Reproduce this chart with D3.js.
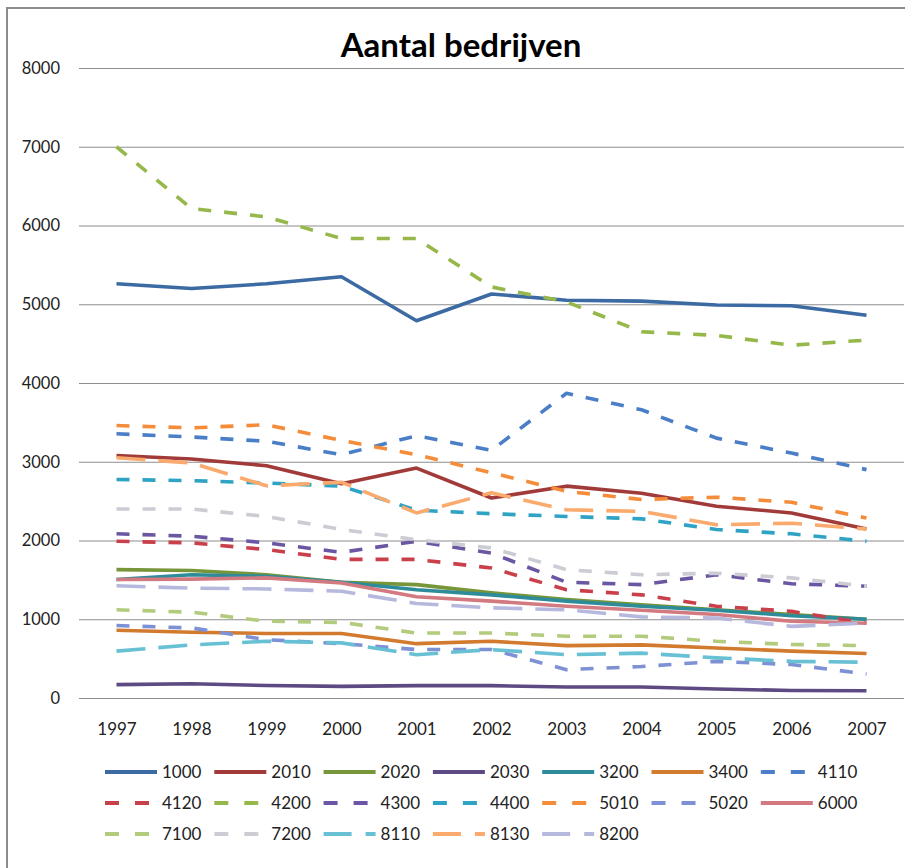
<!DOCTYPE html>
<html>
<head>
<meta charset="utf-8">
<script src="https://cdn.jsdelivr.net/npm/d3@7"></script>
<style>
  body { margin: 0; background: #fff; }
  svg { display: block; font-family: Lato, 'Noto Sans', sans-serif; }
</style>
</head>
<body>
<svg id="chart"></svg>
<script>
// categories and series
var years = ['1997', '1998', '1999', '2000', '2001', '2002', '2003', '2004', '2005', '2006', '2007'];
var codes = ['1000', '2010', '2020', '2030', '3200', '3400', '4110', '4120', '4200', '4300',
  '4400', '5010', '5020', '6000', '7100', '7200', '8110', '8130', '8200'];
var yTicks = [0, 1000, 2000, 3000, 4000, 5000, 6000, 7000, 8000];

var v1000 = [5260, 5200, 5260, 5350, 4790, 5130, 5050, 5040, 4990, 4980, 4860];
var v2010 = [3080, 3035, 2950, 2720, 2920, 2540, 2690, 2600, 2435, 2350, 2145];
var v2020 = [1630, 1620, 1565, 1470, 1440, 1335, 1250, 1185, 1120, 1060, 1000];
var v2030 = [170, 180, 158, 148, 157, 157, 140, 140, 115, 95, 93];
var v3200 = [1505, 1565, 1545, 1470, 1375, 1310, 1230, 1165, 1115, 1045, 1000];
var v3400 = [860, 835, 820, 820, 690, 720, 665, 675, 635, 595, 565];
var v4110 = [3355, 3315, 3260, 3090, 3330, 3145, 3870, 3660, 3300, 3110, 2900];
var v4120 = [1990, 1970, 1885, 1760, 1760, 1650, 1375, 1310, 1165, 1100, 950];
var v4200 = [7000, 6215, 6110, 5835, 5835, 5220, 5030, 4650, 4605, 4480, 4545];
var v4300 = [2085, 2055, 1970, 1850, 1990, 1840, 1470, 1440, 1565, 1450, 1420];
var v4400 = [2775, 2760, 2730, 2690, 2385, 2340, 2305, 2275, 2140, 2085, 1990];
var v5010 = [3460, 3430, 3470, 3270, 3090, 2860, 2625, 2520, 2550, 2485, 2285];
var v5020 = [920, 890, 740, 690, 615, 615, 360, 400, 465, 425, 305];
var v6000 = [1505, 1510, 1525, 1460, 1285, 1230, 1165, 1115, 1060, 975, 950];
var v7100 = [1120, 1090, 975, 960, 825, 825, 785, 785, 720, 680, 665];
var v7200 = [2400, 2400, 2305, 2140, 2010, 1905, 1630, 1565, 1585, 1525, 1420];
var v8110 = [595, 675, 720, 700, 550, 615, 550, 570, 510, 465, 455];
var v8130 = [3050, 2985, 2695, 2740, 2350, 2605, 2390, 2370, 2200, 2220, 2145];
var v8200 = [1425, 1395, 1385, 1355, 1200, 1145, 1120, 1030, 1015, 910, 950];

var values = [v1000, v2010, v2020, v2030, v3200, v3400, v4110, v4120, v4200, v4300,
  v4400, v5010, v5020, v6000, v7100, v7200, v8110, v8130, v8200];

// styles, one per series
var colors = ['#3c6aa3', '#a13b39', '#77963a', '#5e4a82', '#2e8b9a', '#d27a2e', '#4a7ec6', '#c9404a',
  '#96b84a', '#6b56a3', '#2ea3c4', '#f58c3a', '#7d91d4', '#d27a80', '#b3cb7c', '#ccccd4',
  '#68c0d4', '#faaa6c', '#b6b8de'];
var dashes = ['', '', '', '', '', '', 'd', 'd', 'd', 'd', 'd', 'd', 'd', '', 'd', 'd', 'l', 'l', 'l'];
var dashArray = { '': null, d: '13,13', l: '29,13' };
var legendDash = { '': null, d: '14,16', l: '28,14' };

var config = { width: 905, height: 868 };
var plot = { left: 79, right: 904, top: 68, bottom: 698 };

var svg = d3.select('#chart')
  .attr('width', config.width)
  .attr('height', config.height);

// chart frame
svg.append('rect')
  .attr('x', 7).attr('y', 8)
  .attr('width', 920).attr('height', 880)
  .attr('fill', 'none')
  .attr('stroke', '#8c8c8c')
  .attr('stroke-width', 2);

svg.append('text')
  .attr('x', 461).attr('y', 57)
  .attr('text-anchor', 'middle')
  .attr('font-weight', 'bold')
  .attr('font-size', 33)
  .attr('fill', '#000')
  .text('Aantal bedrijven');

var x = d3.scalePoint().domain(years).range([plot.left, plot.right]).padding(0.5);
var y = d3.scaleLinear().domain([0, 8000]).range([plot.bottom, plot.top]);

// gridlines + y labels
var yAxis = svg.append('g')
  .attr('transform', 'translate(' + plot.left + ',0)')
  .call(d3.axisLeft(y).tickValues(yTicks).tickFormat(d3.format('d'))
    .tickSize(-(plot.right - plot.left)).tickPadding(19));
yAxis.select('.domain').remove();
yAxis.selectAll('line').attr('stroke', '#8e8e8e').attr('stroke-width', 1.2);
yAxis.selectAll('text').attr('font-size', 16.5).attr('fill', '#222').attr('font-family', 'Lato, sans-serif');

// x labels
var xAxis = svg.append('g')
  .attr('transform', 'translate(0,' + plot.bottom + ')')
  .call(d3.axisBottom(x).tickSize(0).tickPadding(25));
xAxis.select('.domain').remove();
xAxis.selectAll('text').attr('font-size', 17).attr('fill', '#222').attr('font-family', 'Lato, sans-serif');

var line = d3.line()
  .x(function(d, i) { return x(years[i]); })
  .y(function(d) { return y(d); });

svg.append('g').selectAll('path')
  .data(values)
  .enter()
  .append('path')
  .attr('d', line)
  .attr('fill', 'none')
  .attr('stroke', function(d, i) { return colors[i]; })
  .attr('stroke-width', 3.6)
  .attr('stroke-linejoin', 'round')
  .attr('stroke-dasharray', function(d, i) { return dashArray[dashes[i]]; });

// legend: 7 columns, 3 rows
var legend = svg.append('g').selectAll('g')
  .data(codes)
  .enter()
  .append('g')
  .attr('transform', function(d, i) {
    return 'translate(' + (105 + (i % 7) * 109.3) + ',' + (772 + Math.floor(i / 7) * 31) + ')';
  });

legend.append('line')
  .attr('x1', 0).attr('x2', 52)
  .attr('stroke', function(d, i) { return colors[i]; })
  .attr('stroke-width', 3.8)
  .attr('stroke-dasharray', function(d, i) { return legendDash[dashes[i]]; });

legend.append('text')
  .attr('x', 57)
  .attr('dy', '0.35em')
  .attr('font-size', 17)
  .attr('fill', '#222')
  .text(function(d) { return d; });
</script>
</body>
</html>
